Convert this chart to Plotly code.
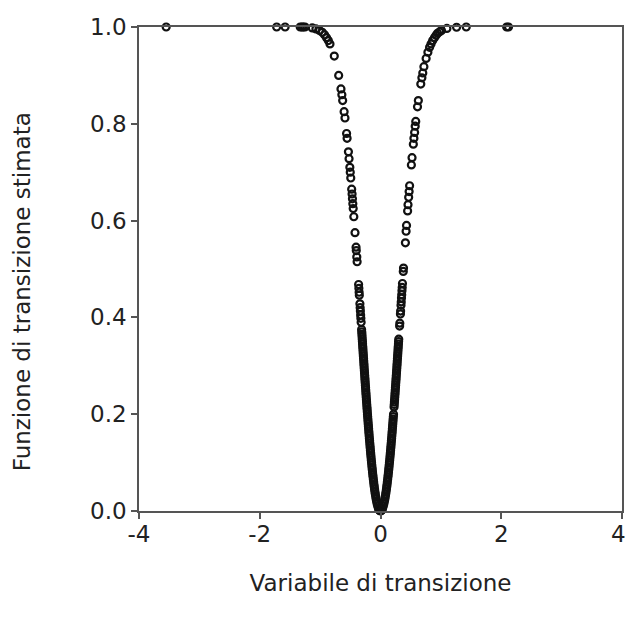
import plotly.graph_objects as go

# Values: left branch (negative x) and right branch (positive x)
left_x = [0.0, -0.0144, -0.0204, -0.025, -0.0323, -0.0458, -0.0561, -0.0649, -0.0726, -0.0797, -0.0862,
          -0.0922, -0.0980, -0.1034, -0.1086, -0.1135, -0.1183, -0.1230, -0.1275, -0.1318, -0.1361,
          -0.1402, -0.1443, -0.1482, -0.1521, -0.1558, -0.1596, -0.1632, -0.1668, -0.1703, -0.1738,
          -0.1773, -0.1807, -0.1840, -0.1873, -0.1906, -0.1938, -0.1970, -0.2002, -0.2033, -0.2064,
          -0.2095, -0.2126, -0.2156, -0.2186, -0.2216, -0.2246, -0.2275, -0.2304, -0.2333, -0.2362,
          -0.2391, -0.2420, -0.2448, -0.2477, -0.2505, -0.2533, -0.2561, -0.2589, -0.2616, -0.2644,
          -0.2671, -0.2699, -0.2726, -0.2753, -0.2780, -0.2808, -0.2835, -0.2862, -0.2888, -0.2915,
          -0.2942, -0.2969, -0.2996, -0.3023, -0.3049, -0.3076, -0.3103, -0.3130,
          -0.3209, -0.3251, -0.3289, -0.3331, -0.3369, -0.3412,
          -0.3508, -0.3540, -0.3583, -0.3626,
          -0.3872, -0.3927, -0.4011, -0.4050,
          -0.4222, -0.4417,
          -0.4521, -0.4583, -0.4646, -0.4709, -0.4774,
          -0.4926, -0.5008, -0.5079, -0.5209, -0.5313, -0.5534, -0.5616,
          -0.5884, -0.6027, -0.6267, -0.6400, -0.6548, -0.6926, -0.7656,
          -0.8368, -0.8643, -0.8932, -0.9270, -0.9650, -1.010, -1.07, -1.13,
          -1.25, -1.28, -1.30, -1.33, -1.58, -1.72, -3.55]
left_y = [0.0, 0.001, 0.002, 0.003, 0.005, 0.010, 0.015, 0.020, 0.025, 0.030, 0.035,
          0.040, 0.045, 0.050, 0.055, 0.060, 0.065, 0.070, 0.075, 0.080, 0.085,
          0.090, 0.095, 0.100, 0.105, 0.110, 0.115, 0.120, 0.125, 0.130, 0.135,
          0.140, 0.145, 0.150, 0.155, 0.160, 0.165, 0.170, 0.175, 0.180, 0.185,
          0.190, 0.195, 0.200, 0.205, 0.210, 0.215, 0.220, 0.225, 0.230, 0.235,
          0.240, 0.245, 0.250, 0.255, 0.260, 0.265, 0.270, 0.275, 0.280, 0.285,
          0.290, 0.295, 0.300, 0.305, 0.310, 0.315, 0.320, 0.325, 0.330, 0.335,
          0.340, 0.345, 0.350, 0.355, 0.360, 0.365, 0.370, 0.375,
          0.390, 0.398, 0.405, 0.413, 0.420, 0.428,
          0.446, 0.452, 0.460, 0.468,
          0.515, 0.525, 0.538, 0.545,
          0.575, 0.608,
          0.625, 0.635, 0.645, 0.655, 0.665,
          0.688, 0.700, 0.710, 0.728, 0.742, 0.770, 0.780,
          0.812, 0.825, 0.848, 0.860, 0.872, 0.900, 0.940,
          0.965, 0.972, 0.978, 0.984, 0.989, 0.993, 0.996, 0.998,
          1.0, 1.0, 1.0, 1.0, 1.0, 1.0, 1.0]

right_x = [0.0144, 0.0204, 0.025, 0.0323, 0.0458, 0.0561, 0.0649, 0.0726, 0.0797, 0.0862,
           0.0922, 0.0980, 0.1034, 0.1086, 0.1135, 0.1183, 0.1230, 0.1275, 0.1318, 0.1361,
           0.1402, 0.1443, 0.1482, 0.1521, 0.1558, 0.1596, 0.1632, 0.1668, 0.1703, 0.1738,
           0.1773, 0.1807, 0.1840, 0.1873, 0.1906, 0.1938, 0.1970, 0.2002, 0.2033, 0.2064,
           0.2095, 0.2126, 0.2156,
           0.2246, 0.2275, 0.2304, 0.2333, 0.2362, 0.2391, 0.2420, 0.2448, 0.2477, 0.2505,
           0.2533, 0.2561, 0.2589, 0.2616, 0.2644, 0.2671, 0.2699, 0.2726, 0.2753, 0.2780,
           0.2808, 0.2835, 0.2862, 0.2888, 0.2915, 0.2942, 0.2969, 0.2996, 0.3023,
           0.3167, 0.3198, 0.3299, 0.3331,
           0.3396, 0.3433, 0.3476, 0.3513, 0.3556, 0.3594, 0.3637,
           0.3773, 0.3811, 0.4125, 0.4240, 0.4310, 0.4490, 0.4557,
           0.4665, 0.4741, 0.4820, 0.5114, 0.5224,
           0.5437, 0.5534, 0.5650, 0.5747, 0.5838, 0.6128, 0.6267,
           0.6674, 0.6856, 0.7004, 0.7188, 0.7556, 0.7850, 0.8131,
           0.8368, 0.8643, 0.8932, 0.9210, 0.9450, 0.9795, 1.0100,
           1.10, 1.26, 1.42, 2.09, 2.12]
right_y = [0.001, 0.002, 0.003, 0.005, 0.010, 0.015, 0.020, 0.025, 0.030, 0.035,
           0.040, 0.045, 0.050, 0.055, 0.060, 0.065, 0.070, 0.075, 0.080, 0.085,
           0.090, 0.095, 0.100, 0.105, 0.110, 0.115, 0.120, 0.125, 0.130, 0.135,
           0.140, 0.145, 0.150, 0.155, 0.160, 0.165, 0.170, 0.175, 0.180, 0.185,
           0.190, 0.195, 0.200,
           0.215, 0.220, 0.225, 0.230, 0.235, 0.240, 0.245, 0.250, 0.255, 0.260,
           0.265, 0.270, 0.275, 0.280, 0.285, 0.290, 0.295, 0.300, 0.305, 0.310,
           0.315, 0.320, 0.325, 0.330, 0.335, 0.340, 0.345, 0.350, 0.355,
           0.382, 0.388, 0.407, 0.413,
           0.425, 0.432, 0.440, 0.447, 0.455, 0.462, 0.470,
           0.495, 0.502, 0.554, 0.578, 0.590, 0.620, 0.633,
           0.648, 0.660, 0.672, 0.715, 0.730,
           0.758, 0.770, 0.782, 0.795, 0.805, 0.835, 0.848,
           0.882, 0.895, 0.905, 0.918, 0.935, 0.948, 0.958,
           0.965, 0.972, 0.978, 0.983, 0.987, 0.990, 0.993,
           0.997, 0.9995, 1.0, 1.0, 1.0]

x_ticks = [-4, -2, 0, 2, 4]
x_ticktext = ["-4", "-2", "0", "2", "4\u00a0"]
y_ticks = [0.0, 0.2, 0.4, 0.6, 0.8, 1.0]

FONT = "DejaVu Sans"
TXT = "#222222"

fig = go.Figure()
fig.add_trace(go.Scatter(
    x=left_x + right_x, y=left_y + right_y, mode="markers",
    marker=dict(symbol="circle-open", size=7, color="#111111", line=dict(width=2.2)),
    showlegend=False, cliponaxis=False,
))

axis_common = dict(
    showline=True, linecolor="#555555", linewidth=1.5, mirror=True,
    ticks="outside", ticklen=6, tickwidth=1.5, tickcolor="#555555",
    showgrid=False, zeroline=False, automargin=False,
    ticklabeloverflow="allow",
    tickfont=dict(family=FONT, size=23, color=TXT),
)
fig.update_xaxes(range=[-4, 4], tickvals=x_ticks, ticktext=x_ticktext,
                 ticklabelstandoff=-4,
                 title=dict(text="Variabile di transizione", standoff=29,
                            font=dict(family=FONT, size=23, color=TXT)),
                 **axis_common)
fig.update_yaxes(range=[0, 1], tickvals=y_ticks, ticktext=[f"{v:.1f}" for v in y_ticks],
                 **axis_common)
fig.add_annotation(
    text="Funzione di transizione stimata", textangle=-90,
    xref="paper", yref="paper", x=-0.242, y=0.452,
    xanchor="center", yanchor="middle", showarrow=False,
    font=dict(family=FONT, size=23, color=TXT),
)
fig.update_layout(
    width=627, height=623,
    margin=dict(l=139, r=5, t=27, b=112),
    plot_bgcolor="white", paper_bgcolor="white",
)
fig.write_html("out.html", config={"displayModeBar": False},
               post_script="document.body.style.margin='0';document.body.style.overflow='hidden';")
